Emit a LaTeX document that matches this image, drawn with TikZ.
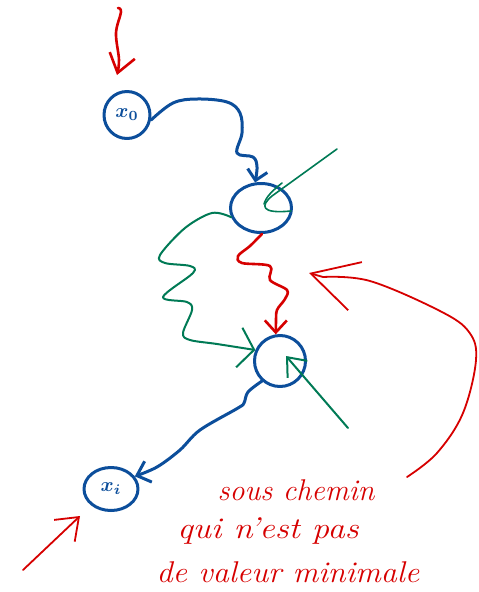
\documentclass[tikz,border=0pt]{standalone}
\usetikzlibrary{shapes.geometric,arrows.meta,calc}
\definecolor{pblue}{RGB}{12,78,155}
\definecolor{pred}{RGB}{214,0,0}
\definecolor{pgreen}{RGB}{0,122,85}
\newcommand{\biglab}[1]{\scalebox{2}{$#1$}}
\begin{document}
\begin{tikzpicture}[x=1pt,y=-1pt,line cap=round,line join=round,
  vert/.style={draw=pblue,line width=3pt,ellipse,inner sep=0pt,text=pblue,font=\boldmath},
  bluearc/.style={draw=pblue,line width=3pt},
  redarc/.style={draw=pred,line width=2.6pt},
  greenarc/.style={draw=pgreen,line width=2pt},
  thingreen/.style={draw=pgreen,line width=1.6pt},
  redline/.style={draw=pred,line width=1.8pt},
  note/.style={text=pred,font=\fontsize{30}{34}\selectfont\itshape,anchor=base,inner sep=0pt}]
\useasboundingbox (0,0) rectangle (479,592);
% nodes
\node[vert,minimum width=46pt,minimum height=47pt] (x0) at (127,115) {\biglab{x_0}};
\node[vert,minimum width=61pt,minimum height=49pt] (n1) at (261,208) {};
\node[vert,minimum width=51pt,minimum height=51pt] (n2) at (280,361) {};
\node[vert,minimum width=54pt,minimum height=43pt] (xi) at (111,489) {\biglab{x_i}};
% free ends
\coordinate (rtop) at (118,8);
\coordinate (rtopend) at (117,75);
\coordinate (g1s) at (337,149);
\coordinate (g2s) at (348,428);
\coordinate (rbig) at (407,477);
\coordinate (rbigtip) at (309,273);
\coordinate (rbl) at (23,570);
\coordinate (rbltip) at (80,516);
% top red arrow
\draw[redarc,-{Straight Barb[length=18pt,width=26pt]}] plot[smooth,tension=0.6] coordinates {(rtop) (121,12) (116,33) (119,60) (rtopend)};
% blue x0 -> n1
\draw[bluearc,-{Straight Barb[length=10pt,width=20pt]}] plot[smooth,tension=0.6] coordinates {(x0.-12) (173,103) (197,99) (227,102) (240,113) (242,133) (237,153) (253,157) (257,167) (n1.103)};
% green hook in n1
\draw[thingreen] (g1s) -- (272,196) .. controls (260,206) and (261,214) .. (291,211);
\draw[thingreen] (282,183) .. controls (272,191) and (266,197) .. (264,204);
% green wavy n1 -> n2
\draw[greenarc,-{Straight Barb[length=15pt,width=40pt]}] plot[smooth,tension=0.55] coordinates {(n1.197) (212,213) (185,228) (160,255) (165,263) (190,266) (193,273) (163,297) (187,302) (192,310) (183,333) (190,340) (217,344) (n2.156)};
% red wavy n1 -> n2
\draw[redarc,-{Straight Barb[length=12pt,width=22pt]}] plot[smooth,tension=0.55] coordinates {(n1.-88) (250,246) (238,256) (242,263) (270,266) (270,280) (287,290) (285,299) (277,310) (276,322) (n2.99)};
% green arrow into n2 from lower right
\draw[greenarc,-{Straight Barb[length=16pt,width=26pt]}] (g2s) -- (286,356);
% blue n2 -> xi
\draw[bluearc,-{Straight Barb[length=12pt,width=22pt]}] plot[smooth,tension=0.55] coordinates {(n2.-132) (248,392) (244,403) (238,408) (200,430) (180,450) (157,467) (xi.28)};
% big red arrow
\draw[redline,-{Straight Barb[length=46pt,width=50pt]}] plot[smooth,tension=0.6] coordinates {(rbig) (437,453) (463,413) (476,360) (469,332) (440,311) (370,281) (323,277)} -- (rbigtip);
% bottom-left red arrow
\draw[redline,-{Straight Barb[length=20pt,width=30pt]}] (rbl) -- (rbltip);
% texts
\node[note] (t1) at (296,500) {sous chemin};
\node[note,xscale=1.15] (t2) at (268,538) {qui n'est pas};
\node[note,xscale=1.07] (t3) at (288,582) {de valeur minimale};
\end{tikzpicture}
\end{document}
